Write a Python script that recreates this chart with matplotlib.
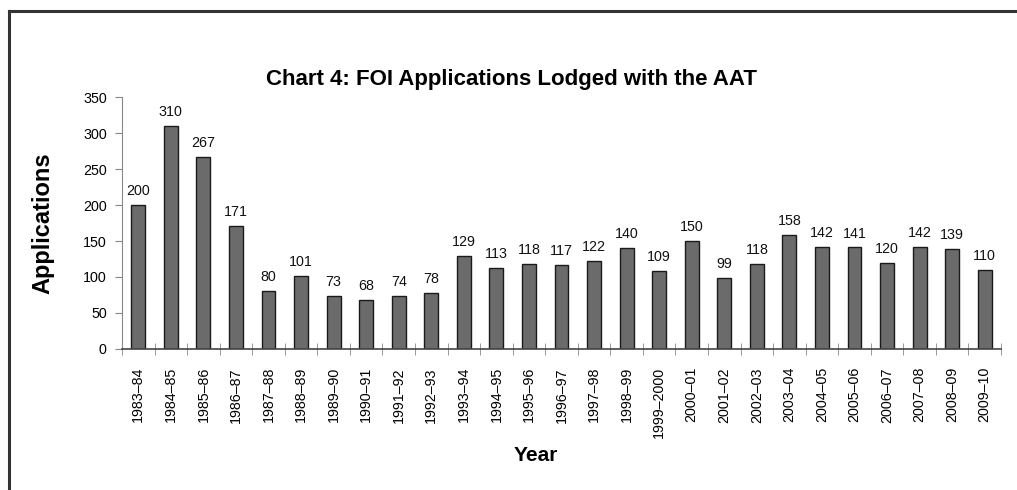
import matplotlib
matplotlib.use("Agg")
import matplotlib.pyplot as plt
from matplotlib.lines import Line2D
import numpy as np

plt.rcParams['font.family'] = ['Liberation Sans', 'DejaVu Sans']

years = ["1983–84", "1984–85", "1985–86", "1986–87", "1987–88", "1988–89", "1989–90",
         "1990–91", "1991–92", "1992–93", "1993–94", "1994–95", "1995–96", "1996–97",
         "1997–98", "1998–99", "1999–2000", "2000–01", "2001–02", "2002–03", "2003–04",
         "2004–05", "2005–06", "2006–07", "2007–08", "2008–09", "2009–10"]
applications = [200, 310, 267, 171, 80, 101, 73, 68, 74, 78, 129, 113, 118, 117, 122,
                140, 109, 150, 99, 118, 158, 142, 141, 120, 142, 139, 110]
yticks = [0, 50, 100, 150, 200, 250, 300, 350]

fig = plt.figure(figsize=(10.17, 4.90), dpi=100)
ax = fig.add_axes([122/1017, 1-349/490, (1001-122)/1017, (349-97)/490])

x = np.arange(len(years))
bars = ax.bar(x, applications, width=0.43, color='#6b6b6b', edgecolor='#1a1a1a', linewidth=1.0, zorder=2)
for xi, v in zip(x, applications):
    ax.annotate(str(v), (xi, v), xytext=(0, 5), textcoords='offset points',
                ha='center', va='bottom', fontsize=10.3, color='#111111')

ax.set_xlim(-0.5, len(years) - 0.5)
ax.set_ylim(0, 350)
ax.set_yticks(yticks)
ax.set_yticklabels([str(t) for t in yticks], fontsize=10.3)
ax.set_xticks(x)
ax.set_xticklabels(years, rotation=90, fontsize=10.3)
ax.tick_params(axis='x', length=0, pad=13)
ax.set_xticks(np.arange(len(years) + 1) - 0.5, minor=True)
ax.tick_params(axis='x', which='minor', length=8, direction='inout', color='#888888')
ax.tick_params(axis='y', length=5, direction='out', color='#888888', pad=6)

for s in ['top', 'right']:
    ax.spines[s].set_visible(False)
ax.spines['left'].set_color('#888888')
ax.spines['bottom'].set_color('#444444')
ax.spines['bottom'].set_linewidth(1.2)

ax.set_ylabel('Applications', fontsize=17, fontweight='bold')
ax.yaxis.set_label_coords(-(122-54)/879, 0.5)
fig.text(536/1017, 1-455/490, 'Year', fontsize=15, fontweight='bold', ha='center', va='center')
fig.text(512/1017, 1-80/490, 'Chart 4: FOI Applications Lodged with the AAT', fontsize=16,
         fontweight='bold', ha='center', va='center')

# frame lines (top and left)
fig.add_artist(Line2D([9/1017, 1], [1-11/490, 1-11/490], transform=fig.transFigure, color='#333333', linewidth=2.2))
fig.add_artist(Line2D([9/1017, 9/1017], [0, 1-11/490], transform=fig.transFigure, color='#333333', linewidth=2.2))

fig.savefig('out.png', dpi=100)
